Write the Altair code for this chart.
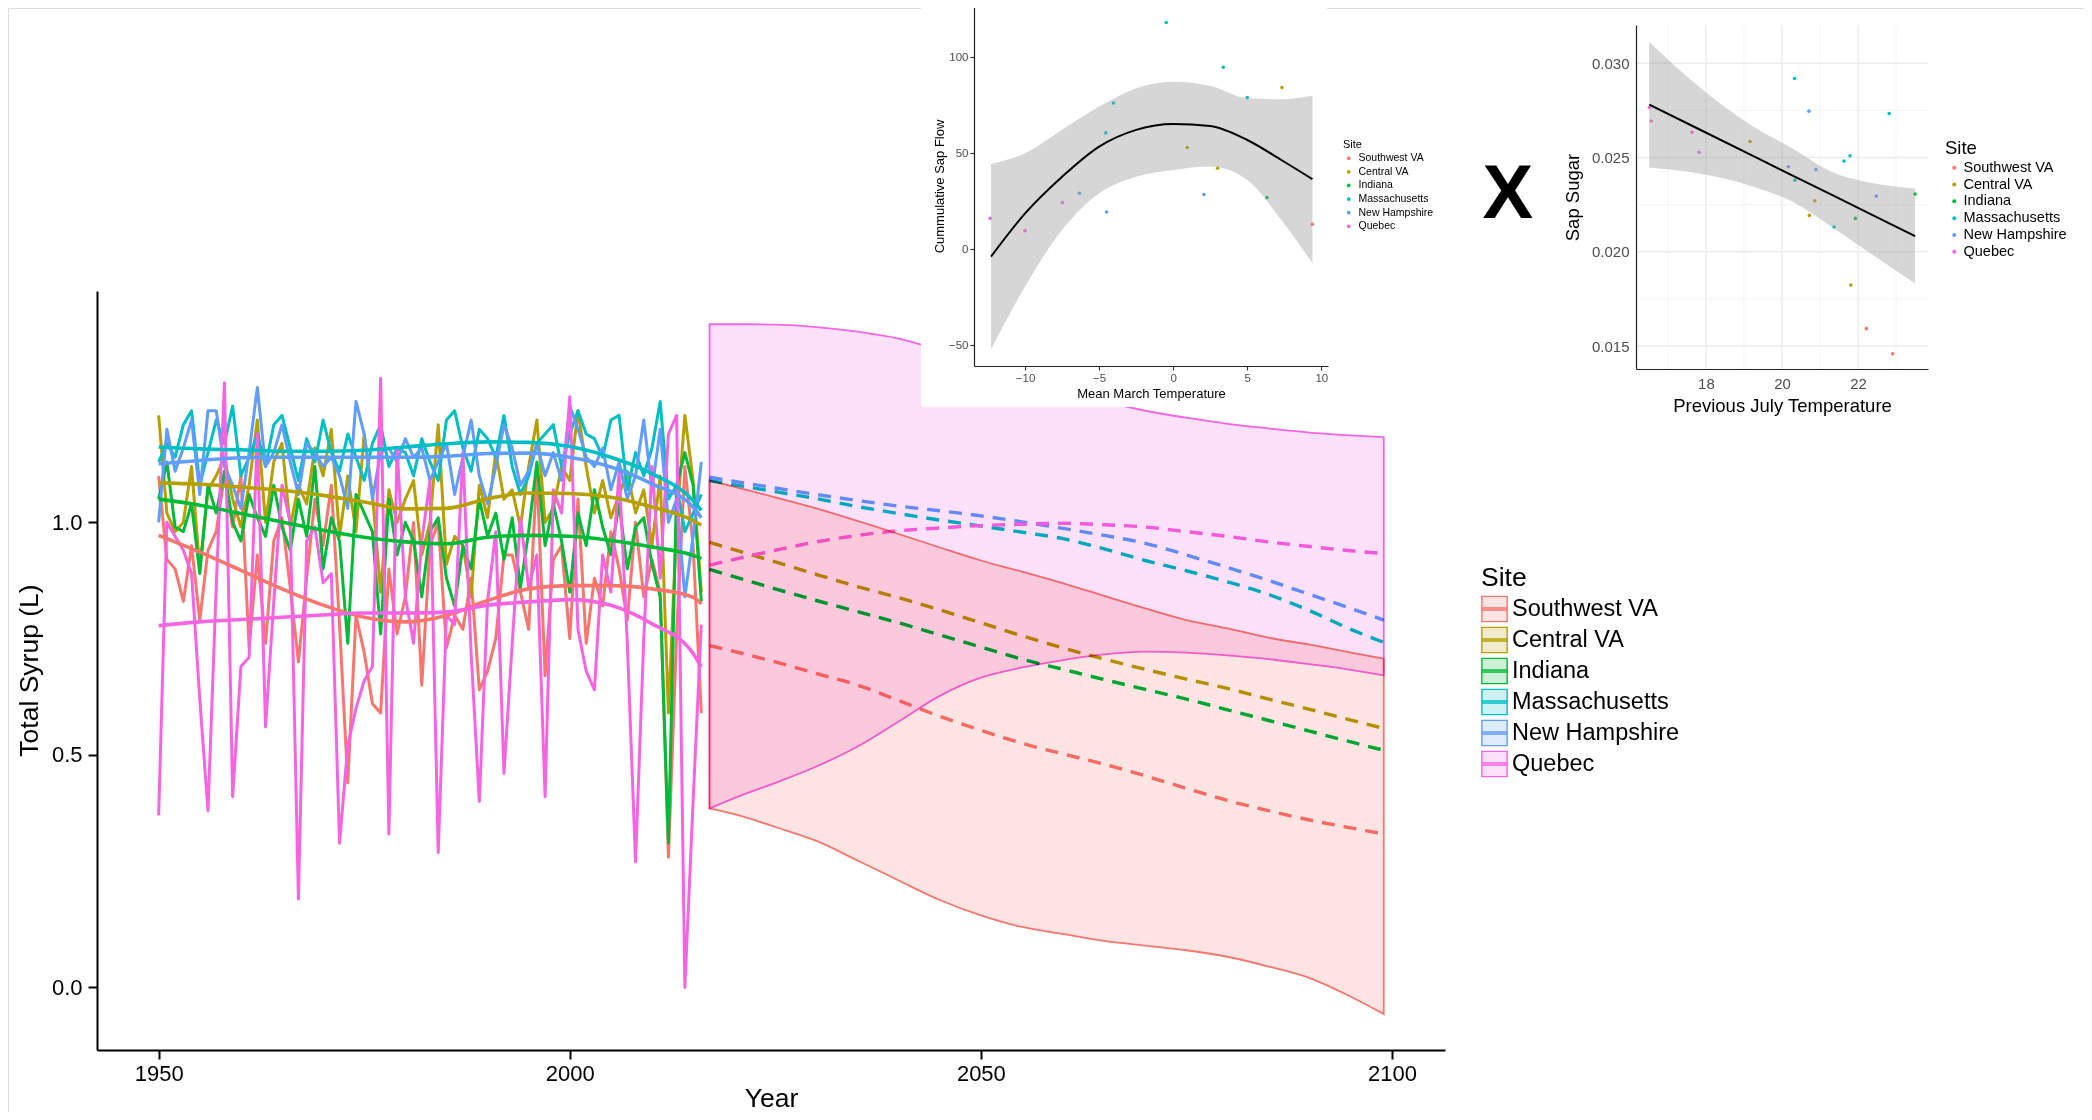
import altair as alt
import pandas as pd

FONT = "Liberation Sans"
SITES = ["Southwest VA", "Central VA", "Indiana", "Massachusetts", "New Hampshire", "Quebec"]
COLORS = ["#F8766D", "#B79F00", "#00BA38", "#00BFC4", "#619CFF", "#F564E3"]
# the same hues at 20 % strength over white (ribbon fill)
LIGHT_COLORS = ["#FEE4E2", "#F1ECCC", "#CCF1D7", "#CCF2F3", "#DFEBFF", "#FDE0F9"]

# ---------------- main panel: yearly observations 1950-2016 ----------------
HIST_YEARS = list(range(1950, 2017))
SWVA_HIST = [1.10, 0.92, 0.90, 0.83, 0.95, 0.79, 0.94, 0.98, 1.10, 0.99,
             1.10, 0.73, 0.93, 0.74, 0.96, 1.01, 0.86, 0.70, 0.88, 1.05,
             0.95, 1.08, 0.78, 0.44, 0.80, 0.72, 0.61, 0.59, 0.90, 0.76,
             0.84, 1.00, 0.65, 0.95, 1.00, 0.73, 0.80, 0.77, 0.88, 0.64,
             0.68, 0.75, 0.93, 0.93, 0.85, 0.77, 1.11, 0.67, 0.92, 0.95,
             0.75, 1.05, 0.74, 0.88, 0.82, 0.98, 0.90, 0.79, 1.00, 0.84,
             0.92, 0.85, 0.28, 0.76, 1.12, 0.95, 0.59]
CVA_HIST = [1.23, 1.02, 0.98, 1.00, 1.12, 0.90, 1.07, 1.10, 1.14, 1.05,
            0.99, 1.08, 1.22, 1.00, 1.13, 1.17, 0.99, 1.08, 1.04, 1.16,
            1.10, 1.20, 0.97, 1.10, 0.98, 1.19, 1.06, 0.85, 1.07, 1.00,
            1.05, 1.09, 0.93, 1.00, 1.21, 0.91, 0.97, 0.95, 0.84, 1.08,
            1.01, 1.15, 1.05, 1.07, 0.99, 1.12, 1.22, 1.00, 1.03, 1.12,
            1.09, 1.24, 1.12, 1.02, 1.09, 1.01, 1.06, 1.11, 1.02, 1.07,
            0.95, 1.10, 0.59, 1.00, 1.23, 1.09, 0.85]
IND_HIST = [1.05, 1.13, 0.99, 0.98, 1.04, 0.89, 1.08, 1.02, 1.11, 1.00,
            0.96, 1.06, 1.01, 0.97, 1.08, 0.99, 0.94, 1.05, 0.97, 1.12,
            0.90, 1.01, 0.96, 0.74, 1.06, 1.02, 0.98, 0.76, 1.05, 0.93,
            1.00, 0.96, 0.84, 0.98, 1.01, 0.88, 0.82, 0.95, 0.90, 1.05,
            0.97, 1.02, 0.92, 1.01, 0.86, 0.98, 1.13, 0.95, 1.04, 0.96,
            0.85, 1.02, 0.95, 1.07, 0.99, 0.93, 1.04, 0.90, 0.99, 1.01,
            0.91, 0.84, 0.31, 1.08, 1.15, 1.08, 0.83]
MA_HIST = [1.13, 1.17, 1.14, 1.21, 1.24, 1.08, 1.15, 1.22, 1.17, 1.25,
           1.10, 1.14, 1.19, 1.12, 1.21, 1.23, 1.16, 1.09, 1.18, 1.13,
           1.22, 1.15, 1.11, 1.19, 1.14, 1.09, 1.17, 1.21, 1.12, 1.16,
           1.15, 1.10, 1.18, 1.13, 1.09, 1.22, 1.24, 1.16, 1.11, 1.20,
           1.18, 1.14, 1.23, 1.12, 1.06, 1.10, 1.17, 1.19, 1.21, 1.12,
           1.19, 1.24, 1.19, 1.18, 1.14, 1.22, 1.23, 1.07, 1.15, 1.10,
           1.16, 1.26, 1.05, 1.08, 0.98, 1.02, 1.06]
NH_HIST = [1.00, 1.20, 1.11, 1.16, 1.22, 1.06, 1.24, 1.24, 1.12, 1.08,
           1.03, 1.15, 1.29, 1.12, 1.15, 1.21, 1.13, 1.06, 1.17, 1.15,
           1.12, 1.14, 1.10, 1.03, 1.26, 1.19, 1.05, 1.15, 1.16, 1.13,
           1.18, 1.14, 1.16, 1.09, 1.13, 1.17, 1.06, 1.14, 1.22, 1.10,
           1.04, 1.12, 1.21, 1.16, 1.08, 1.11, 1.17, 1.10, 1.15, 1.09,
           1.25, 1.20, 1.14, 1.12, 1.16, 1.07, 1.13, 1.05, 1.10, 1.22,
           1.07, 1.20, 1.00, 1.05, 0.84, 0.97, 1.13]
QC_HIST = [0.37, 1.00, 0.97, 0.94, 0.89, 0.62, 0.38, 0.86, 1.30, 0.41,
           0.69, 0.71, 1.19, 0.56, 0.83, 1.08, 1.00, 0.19, 0.96, 0.99,
           0.87, 0.89, 0.31, 0.52, 0.60, 0.66, 0.69, 1.31, 0.33, 1.16,
           0.84, 0.74, 0.96, 1.09, 0.29, 0.80, 0.78, 1.15, 0.72, 0.40,
           0.83, 0.98, 0.46, 0.74, 1.01, 0.86, 0.93, 0.41, 1.07, 1.02,
           1.27, 0.77, 0.68, 0.64, 0.93, 0.85, 1.11, 0.74, 0.27, 0.75,
           1.12, 0.88, 1.19, 1.23, 0.00, 0.40, 0.78]

# smoothed historical trend
SMOOTH_YEARS = [1950, 1955, 1960, 1965, 1970, 1975, 1980, 1985, 1990, 1995, 2000, 2005, 2010, 2015, 2016]
SWVA_SMOOTH = [0.972, 0.936, 0.897, 0.857, 0.822, 0.796, 0.786, 0.800, 0.832, 0.857, 0.864, 0.864, 0.857, 0.839, 0.825]
CVA_SMOOTH = [1.085, 1.082, 1.076, 1.069, 1.058, 1.044, 1.029, 1.030, 1.051, 1.063, 1.062, 1.054, 1.033, 1.004, 0.994]
IND_SMOOTH = [1.050, 1.037, 1.019, 1.001, 0.983, 0.968, 0.958, 0.954, 0.968, 0.972, 0.970, 0.961, 0.947, 0.929, 0.922]
MA_SMOOTH = [1.162, 1.158, 1.156, 1.153, 1.153, 1.155, 1.162, 1.169, 1.173, 1.172, 1.163, 1.140, 1.105, 1.047, 1.026]
NH_SMOOTH = [1.126, 1.133, 1.139, 1.140, 1.140, 1.140, 1.140, 1.142, 1.148, 1.149, 1.140, 1.119, 1.083, 1.033, 1.010]
QC_SMOOTH = [0.778, 0.786, 0.791, 0.796, 0.801, 0.805, 0.805, 0.807, 0.822, 0.829, 0.834, 0.822, 0.782, 0.718, 0.689]

# projections 2017-2099
PROJ_YEARS = [2017, 2025, 2030, 2035, 2040, 2045, 2050, 2055, 2060, 2065, 2070, 2075, 2080, 2085, 2090, 2095, 2099]
SWVA_PROJ = [0.735, 0.700, 0.675, 0.650, 0.617, 0.583, 0.553, 0.525, 0.502, 0.480, 0.455, 0.428, 0.402, 0.380, 0.360, 0.343, 0.330]
CVA_PROJ = [0.957, 0.915, 0.888, 0.862, 0.838, 0.812, 0.784, 0.756, 0.730, 0.706, 0.684, 0.663, 0.643, 0.620, 0.598, 0.575, 0.557]
IND_PROJ = [0.899, 0.857, 0.832, 0.808, 0.784, 0.758, 0.732, 0.706, 0.684, 0.662, 0.641, 0.620, 0.597, 0.574, 0.551, 0.528, 0.510]
MA_PROJ = [1.090, 1.066, 1.051, 1.034, 1.019, 1.005, 0.992, 0.979, 0.965, 0.943, 0.918, 0.896, 0.872, 0.845, 0.810, 0.770, 0.742]
NH_PROJ = [1.097, 1.074, 1.060, 1.047, 1.035, 1.025, 1.014, 1.001, 0.987, 0.972, 0.955, 0.930, 0.903, 0.875, 0.845, 0.815, 0.790]
QC_PROJ = [0.908, 0.940, 0.958, 0.972, 0.982, 0.988, 0.993, 0.996, 0.998, 0.995, 0.990, 0.980, 0.970, 0.958, 0.948, 0.939, 0.933]

# projection uncertainty ribbons (Southwest VA and Quebec)
RIB_YEARS = [2017, 2021, 2025, 2030, 2035, 2040, 2045, 2050, 2055, 2060, 2065, 2070, 2075, 2080, 2085, 2090, 2095, 2099]
SWVA_LO = [0.385, 0.368, 0.345, 0.315, 0.273, 0.230, 0.188, 0.155, 0.130, 0.115, 0.100, 0.090, 0.080, 0.066, 0.045, 0.020, -0.020, -0.057]
SWVA_HI = [1.090, 1.072, 1.054, 1.030, 1.003, 0.975, 0.946, 0.918, 0.894, 0.869, 0.842, 0.815, 0.790, 0.772, 0.752, 0.737, 0.720, 0.707]
QC_LO = [0.385, 0.414, 0.440, 0.475, 0.518, 0.572, 0.627, 0.666, 0.688, 0.704, 0.716, 0.722, 0.720, 0.714, 0.706, 0.695, 0.683, 0.671]
QC_HI = [1.426, 1.426, 1.425, 1.420, 1.410, 1.395, 1.370, 1.340, 1.310, 1.285, 1.260, 1.240, 1.225, 1.212, 1.202, 1.193, 1.187, 1.183]

# ---------------- inset 1: Cummulative Sap Flow vs Mean March Temperature ----------------
INS1_X = [-12.36, -10.0, -7.48, -6.33, -4.55, -4.03, -4.5, -0.47, 0.95, 3.0, 2.07, 3.38, 5.0, 6.33, 7.34, 9.39]
INS1_Y = [16.1, 9.7, 24.3, 29.2, 60.6, 76.2, 19.4, 118.1, 53.0, 42.2, 28.5, 94.8, 79.0, 26.9, 84.2, 13.0]
INS1_SITE = ["Quebec", "Quebec", "Quebec", "New Hampshire", "Massachusetts", "Massachusetts", "New Hampshire",
             "Massachusetts", "Central VA", "Central VA", "New Hampshire", "Massachusetts", "Massachusetts",
             "Indiana", "Central VA", "Southwest VA"]
INS1_FIT_X = [-12.3, -10.0, -7.5, -5.0, -2.5, 0.0, 2.5, 5.0, 7.3, 9.4]
INS1_FIT = [-3.8, 18.7, 37.8, 53.5, 62.2, 65.3, 64.2, 56.9, 46.5, 36.5]
INS1_HI = [44.4, 50.0, 62.2, 74.3, 83.9, 87.3, 85.1, 78.6, 78.1, 79.9]
INS1_LO = [-52.1, -19.4, 10.1, 29.2, 37.8, 41.3, 43.1, 36.1, 15.3, -7.3]

# ---------------- inset 2: Sap Sugar vs Previous July Temperature ----------------
INS2_X = [16.51, 16.56, 17.63, 17.82, 19.16, 20.33, 20.71, 22.82, 20.17, 20.34, 20.89,
          21.63, 21.79, 20.86, 20.72, 21.37, 21.93, 22.48, 23.50, 21.81, 22.22, 22.91]
INS2_Y = [0.02765, 0.02694, 0.02634, 0.02528, 0.02585, 0.02919, 0.02746, 0.02733, 0.02451, 0.02380, 0.02436,
          0.02481, 0.02509, 0.02270, 0.02193, 0.02131, 0.02177, 0.02295, 0.02306, 0.01823, 0.01592, 0.01459]
INS2_SITE = ["Quebec", "Quebec", "Quebec", "Quebec", "Central VA", "Massachusetts", "New Hampshire",
             "Massachusetts", "New Hampshire", "Massachusetts", "New Hampshire", "Massachusetts",
             "Massachusetts", "Central VA", "Central VA", "Massachusetts", "Indiana", "New Hampshire",
             "Indiana", "Central VA", "Southwest VA", "Southwest VA"]
INS2_FIT_X = [16.51, 17.82, 19.25, 20.28, 21.30, 22.33, 23.50]
INS2_FIT = [0.02781, 0.02650, 0.02507, 0.02404, 0.02303, 0.02200, 0.02083]
INS2_HI = [0.03113, 0.02875, 0.02663, 0.02548, 0.02424, 0.02366, 0.02336]
INS2_LO = [0.02447, 0.02415, 0.02345, 0.02265, 0.02133, 0.01991, 0.01832]
INS2_GRID_X_MAJOR = [18, 20, 22]
INS2_GRID_X_MINOR = [17, 19, 21, 23]
INS2_GRID_Y_MAJOR = [0.015, 0.020, 0.025, 0.030]
INS2_GRID_Y_MINOR = [0.0175, 0.0225, 0.0275]


def long_df(years, series, col="value"):
    rows = []
    for site, vals in zip(SITES, series):
        for yr, v in zip(years, vals):
            rows.append({"Year": yr, col: v, "Site": site})
    return pd.DataFrame(rows)


hist_df = long_df(HIST_YEARS, [SWVA_HIST, CVA_HIST, IND_HIST, MA_HIST, NH_HIST, QC_HIST])
smooth_df = long_df(SMOOTH_YEARS, [SWVA_SMOOTH, CVA_SMOOTH, IND_SMOOTH, MA_SMOOTH, NH_SMOOTH, QC_SMOOTH])
proj_df = long_df(PROJ_YEARS, [SWVA_PROJ, CVA_PROJ, IND_PROJ, MA_PROJ, NH_PROJ, QC_PROJ])
rib_rows = []
for site, lo, hi in [("Southwest VA", SWVA_LO, SWVA_HI), ("Quebec", QC_LO, QC_HI)]:
    for yr, a, b in zip(RIB_YEARS, lo, hi):
        rib_rows.append({"Year": yr, "lo": a, "hi": b, "Site": site})
rib_df = pd.DataFrame(rib_rows)

ins1_pts = pd.DataFrame({"x": INS1_X, "y": INS1_Y, "Site": INS1_SITE})
ins1_fit = pd.DataFrame({"x": INS1_FIT_X, "fit": INS1_FIT, "lo": INS1_LO, "hi": INS1_HI})
ins2_pts = pd.DataFrame({"x": INS2_X, "y": INS2_Y, "Site": INS2_SITE})
ins2_fit = pd.DataFrame({"x": INS2_FIT_X, "fit": INS2_FIT, "lo": INS2_LO, "hi": INS2_HI})
gx_major = pd.DataFrame({"g": INS2_GRID_X_MAJOR})
gx_minor = pd.DataFrame({"g": INS2_GRID_X_MINOR})
gy_major = pd.DataFrame({"g": INS2_GRID_Y_MAJOR})
gy_minor = pd.DataFrame({"g": INS2_GRID_Y_MINOR})
one = pd.DataFrame({"k": [0]})

W, H = 2076, 1104
SITE_SCALE = alt.Scale(domain=SITES, range=COLORS)
LIGHT_SCALE = alt.Scale(domain=SITES, range=LIGHT_COLORS)

# ---------------- main panel ----------------
MX = alt.Scale(domain=[1942.5, 2106.45], range=[89, 1437], nice=False, zero=False)
MY = alt.Scale(domain=[-0.1345, 1.4975], range=[1042, 283], nice=False, zero=False)
AX_MX = alt.Axis(orient="bottom", offset=-62, values=[1950, 2000, 2050, 2100], format="d", grid=False,
                 domainColor="black", domainWidth=2, tickColor="black", tickWidth=2, tickSize=9,
                 labelFont=FONT, labelFontSize=22, labelColor="black", labelPadding=4, labelFlush=False,
                 title="Year", titleFont=FONT, titleFontSize=26.5, titleFontWeight="normal", titleColor="black",
                 titleX=763, titleY=56, titleAlign="center", titleBaseline="alphabetic", zindex=1)
AX_MY = alt.Axis(orient="left", offset=-89, values=[0.0, 0.5, 1.0], format=".1f", grid=False,
                 domainColor="black", domainWidth=2, tickColor="black", tickWidth=2, tickSize=9,
                 labelFont=FONT, labelFontSize=22, labelColor="black", labelPadding=6, labelFlush=False,
                 title="Total Syrup (L)", titleFont=FONT, titleFontSize=26.5, titleFontWeight="normal",
                 titleColor="black", titleAngle=270, titleX=-60, titleY=662, titleAlign="center",
                 titleBaseline="alphabetic", zindex=1)
MAIN_LEGEND = alt.Legend(
    title="Site", orient="none", legendX=1473, legendY=557, padding=0,
    symbolType="M-1,-1H1V1H-1Z M-1,-0.08H1V0.08H-1Z", symbolSize=640, symbolStrokeWidth=1.4,
    symbolOpacity=1,
    titleFont=FONT, titleFontSize=26.5, titleFontWeight="normal", titleColor="black", titlePadding=4,
    labelFont=FONT, labelFontSize=23.5, labelColor="black", labelOffset=4, labelLimit=400, rowPadding=0,
)

hist = alt.Chart(hist_df).mark_line(strokeWidth=3.0, strokeJoin="round").encode(
    x=alt.X("Year:Q", scale=MX, axis=AX_MX),
    y=alt.Y("value:Q", scale=MY, axis=AX_MY),
    stroke=alt.Stroke("Site:N", scale=SITE_SCALE, legend=MAIN_LEGEND, sort=SITES),
)
smooth = alt.Chart(smooth_df).mark_line(strokeWidth=3.6, interpolate="monotone").encode(
    x=alt.X("Year:Q", scale=MX, axis=AX_MX),
    y=alt.Y("value:Q", scale=MY, axis=AX_MY),
    stroke=alt.Stroke("Site:N", scale=SITE_SCALE, legend=MAIN_LEGEND, sort=SITES),
)
proj = alt.Chart(proj_df).mark_line(strokeWidth=3.4, strokeDash=[13, 9], interpolate="monotone").encode(
    x=alt.X("Year:Q", scale=MX, axis=AX_MX),
    y=alt.Y("value:Q", scale=MY, axis=AX_MY),
    stroke=alt.Stroke("Site:N", scale=SITE_SCALE, legend=MAIN_LEGEND, sort=SITES),
)
# light fill multiplied onto what lies below = a 20 % tint, so overlapping ribbons mix
ribbon = alt.Chart(rib_df).mark_area(fillOpacity=1, strokeOpacity=1, strokeWidth=1.8, blend="multiply",
                                     interpolate="monotone").encode(
    x=alt.X("Year:Q", scale=MX, axis=AX_MX),
    y=alt.Y("lo:Q", scale=MY, axis=AX_MY),
    y2="hi:Q",
    fill=alt.Fill("Site:N", scale=LIGHT_SCALE, legend=MAIN_LEGEND, sort=SITES),
    stroke=alt.Stroke("Site:N", scale=SITE_SCALE, legend=MAIN_LEGEND, sort=SITES),
)
main = alt.layer(hist, smooth, proj, ribbon)

# ---------------- inset 1 ----------------
I1X = alt.Scale(domain=[-13.45, 10.45], range=[966, 1320], nice=False, zero=False)
I1Y = alt.Scale(domain=[-60.8, 126.7], range=[358, -2], nice=False, zero=False)
AX_I1X = alt.Axis(orient="bottom", offset=-746, values=[-10, -5, 0, 5, 10], grid=False,
                  domainColor="#222222", domainWidth=1.2, tickColor="#333333", tickWidth=1.2, tickSize=4,
                  labelFont=FONT, labelFontSize=11.5, labelColor="#4D4D4D", labelPadding=2, labelFlush=False,
                  title="Mean March Temperature", titleFont=FONT, titleFontSize=13, titleFontWeight="normal",
                  titleColor="black", titleX=1143, titleY=31, titleAlign="center", titleBaseline="alphabetic",
                  zindex=1)
AX_I1Y = alt.Axis(orient="left", offset=-966, values=[-50, 0, 50, 100], grid=False,
                  domainColor="#222222", domainWidth=1.2, tickColor="#333333", tickWidth=1.2, tickSize=4,
                  labelFont=FONT, labelFontSize=11.5, labelColor="#4D4D4D", labelPadding=2, labelFlush=False,
                  title="Cummulative Sap Flow", titleFont=FONT, titleFontSize=13, titleFontWeight="normal",
                  titleColor="black", titleAngle=270, titleX=-31, titleY=178, titleAlign="center",
                  titleBaseline="alphabetic", zindex=1)
INS1_LEGEND = alt.Legend(
    title="Site", orient="none", legendX=1335, legendY=131, padding=0,
    symbolType="circle", symbolSize=14, symbolStrokeWidth=0, symbolOffset=0.5,
    titleFont=FONT, titleFontSize=11, titleFontWeight="normal", titleColor="black", titlePadding=3,
    labelFont=FONT, labelFontSize=10.5, labelColor="black", labelOffset=4.5, rowPadding=2.6,
)
bg1 = alt.Chart(one).mark_rect(color="white").encode(
    x=alt.X(datum=-17.03, scale=I1X, axis=AX_I1X), x2=alt.X2(datum=10.38),
    y=alt.Y(datum=-82.15, scale=I1Y, axis=AX_I1Y), y2=alt.Y2(datum=135.0),
)
pts1 = alt.Chart(ins1_pts).mark_circle(size=13, opacity=1).encode(
    x=alt.X("x:Q", scale=I1X, axis=AX_I1X),
    y=alt.Y("y:Q", scale=I1Y, axis=AX_I1Y),
    color=alt.Color("Site:N", scale=SITE_SCALE, legend=INS1_LEGEND, sort=SITES),
)
band1 = alt.Chart(ins1_fit).mark_area(color="#999999", fillOpacity=1, opacity=0.4,
                                      interpolate="monotone").encode(
    x=alt.X("x:Q", scale=I1X, axis=AX_I1X),
    y=alt.Y("lo:Q", scale=I1Y, axis=AX_I1Y), y2="hi:Q",
)
line1 = alt.Chart(ins1_fit).mark_line(color="black", strokeWidth=2, interpolate="monotone").encode(
    x=alt.X("x:Q", scale=I1X, axis=AX_I1X),
    y=alt.Y("fit:Q", scale=I1Y, axis=AX_I1Y),
)
inset1 = alt.layer(bg1, pts1, band1, line1)

# ---------------- inset 2 ----------------
I2X = alt.Scale(domain=[16.16, 23.84], range=[1628, 1920], nice=False, zero=False)
I2Y = alt.Scale(domain=[0.01378, 0.03203], range=[361, 17], nice=False, zero=False)
AX_I2X = alt.Axis(orient="bottom", offset=-743, values=[18, 20, 22], grid=False, ticks=False,
                  domainColor="#222222", domainWidth=1.2,
                  labelFont=FONT, labelFontSize=15, labelColor="#4D4D4D", labelPadding=7, labelFlush=False,
                  title="Previous July Temperature", titleFont=FONT, titleFontSize=18.5,
                  titleFontWeight="normal", titleColor="black", titleX=1774, titleY=42,
                  titleAlign="center", titleBaseline="alphabetic", zindex=1)
AX_I2Y = alt.Axis(orient="left", offset=-1628, values=[0.015, 0.020, 0.025, 0.030], format=".3f",
                  grid=False, ticks=False, domainColor="#222222", domainWidth=1.2,
                  labelFont=FONT, labelFontSize=15, labelColor="#4D4D4D", labelPadding=7, labelFlush=False,
                  title="Sap Sugar", titleFont=FONT, titleFontSize=18.5, titleFontWeight="normal",
                  titleColor="black", titleAngle=270, titleX=-58, titleY=189, titleAlign="center",
                  titleBaseline="alphabetic", zindex=1)
INS2_LEGEND = alt.Legend(
    title="Site", orient="none", legendX=1937, legendY=131, padding=0,
    symbolType="circle", symbolSize=16, symbolStrokeWidth=0, symbolOffset=2,
    titleFont=FONT, titleFontSize=18.5, titleFontWeight="normal", titleColor="black", titlePadding=3,
    labelFont=FONT, labelFontSize=14.5, labelColor="black", labelOffset=2, rowPadding=1.8,
)
gvx_major = alt.Chart(gx_major).mark_rule(color="#EBEBEB", strokeWidth=1.3).encode(
    x=alt.X("g:Q", scale=I2X, axis=AX_I2X),
    y=alt.Y(datum=0.01378, scale=I2Y, axis=AX_I2Y), y2=alt.Y2(datum=0.03203),
)
gvx_minor = alt.Chart(gx_minor).mark_rule(color="#F3F3F3", strokeWidth=0.8).encode(
    x=alt.X("g:Q", scale=I2X, axis=AX_I2X),
    y=alt.Y(datum=0.01378, scale=I2Y, axis=AX_I2Y), y2=alt.Y2(datum=0.03203),
)
ghy_major = alt.Chart(gy_major).mark_rule(color="#EBEBEB", strokeWidth=1.3).encode(
    y=alt.Y("g:Q", scale=I2Y, axis=AX_I2Y),
    x=alt.X(datum=16.16, scale=I2X, axis=AX_I2X), x2=alt.X2(datum=23.84),
)
ghy_minor = alt.Chart(gy_minor).mark_rule(color="#F3F3F3", strokeWidth=0.8).encode(
    y=alt.Y("g:Q", scale=I2Y, axis=AX_I2Y),
    x=alt.X(datum=16.16, scale=I2X, axis=AX_I2X), x2=alt.X2(datum=23.84),
)
pts2 = alt.Chart(ins2_pts).mark_circle(size=13, opacity=1).encode(
    x=alt.X("x:Q", scale=I2X, axis=AX_I2X),
    y=alt.Y("y:Q", scale=I2Y, axis=AX_I2Y),
    color=alt.Color("Site:N", scale=SITE_SCALE, legend=INS2_LEGEND, sort=SITES),
)
band2 = alt.Chart(ins2_fit).mark_area(color="#999999", fillOpacity=1, opacity=0.4,
                                      interpolate="monotone").encode(
    x=alt.X("x:Q", scale=I2X, axis=AX_I2X),
    y=alt.Y("lo:Q", scale=I2Y, axis=AX_I2Y), y2="hi:Q",
)
line2 = alt.Chart(ins2_fit).mark_line(color="black", strokeWidth=2).encode(
    x=alt.X("x:Q", scale=I2X, axis=AX_I2X),
    y=alt.Y("fit:Q", scale=I2Y, axis=AX_I2Y),
)
times = alt.Chart(one).mark_text(text="X", font=FONT, fontSize=76, fontWeight="bold", color="black",
                                 align="center", baseline="alphabetic").encode(
    x=alt.X(datum=12.79, scale=I2X, axis=AX_I2X),
    y=alt.Y(datum=0.02179, scale=I2Y, axis=AX_I2Y),
)
inset2 = alt.layer(gvx_minor, ghy_minor, gvx_major, ghy_major, pts2, band2, line2, times)

chart = alt.layer(main, inset1, inset2).resolve_scale(
    x="independent", y="independent", color="independent", fill="independent", stroke="independent"
).resolve_axis(
    x="independent", y="independent"
).resolve_legend(
    color="independent", fill="independent", stroke="independent"
).properties(
    width=W, height=H, padding=0, autosize=alt.AutoSizeParams(type="none")
).configure_view(
    stroke=None
).configure(font=FONT)

chart.save("out.html", embed_options={"renderer": "svg", "actions": False})
